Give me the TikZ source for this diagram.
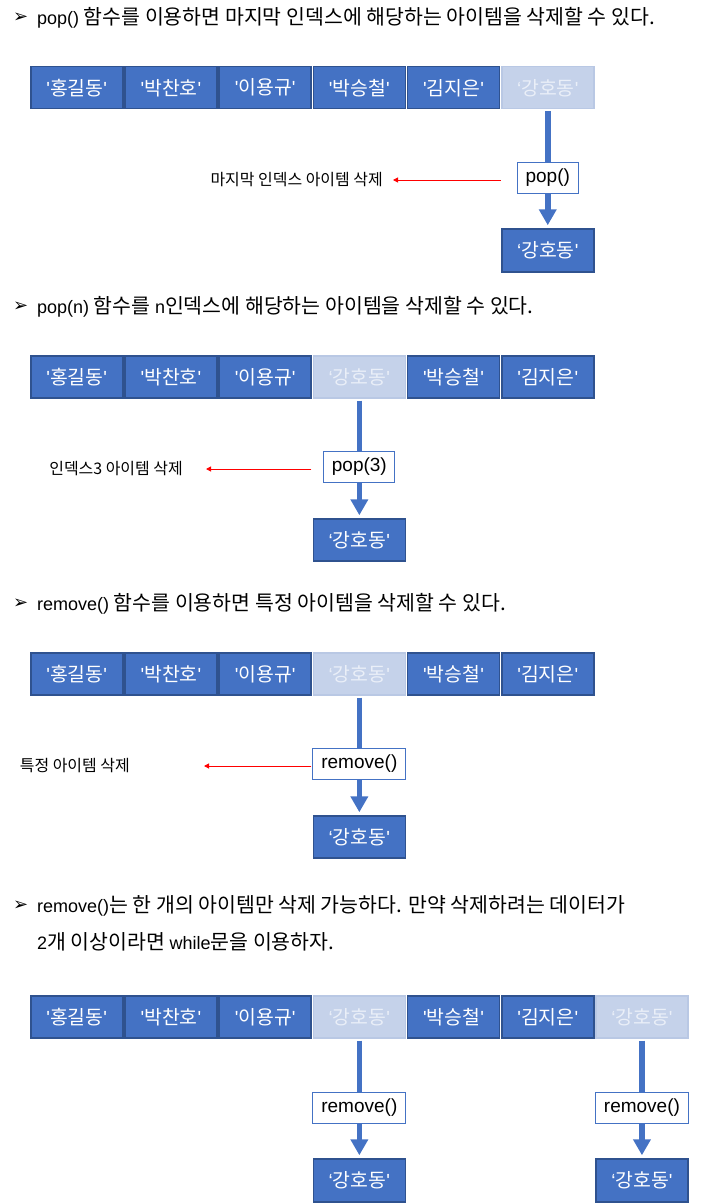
\documentclass[tikz,border=0pt]{standalone}
\usepackage{fontspec}
\setmainfont[Scale=1.14]{Noto Sans CJK KR}
\newfontfamily\la{Liberation Sans}
\newfontfamily\symf{DejaVu Sans}
\usetikzlibrary{arrows.meta,backgrounds}
\definecolor{cellfill}{HTML}{4472C4}
\definecolor{cellborder}{HTML}{2F528F}
\definecolor{ghostfill}{HTML}{C5D2EA}
\definecolor{ghostborder}{HTML}{B9C8E4}
\definecolor{ghosttext}{HTML}{EAEFF8}
\definecolor{arrowblue}{HTML}{4472C4}
\newcommand\cellq[1]{{\la\fontsize{19}{20}\selectfont '}#1{\la\fontsize{19}{20}\selectfont '}}
\newcommand\cellqq[1]{{\la\fontsize{19}{20}\selectfont ‘}#1{\la\fontsize{19}{20}\selectfont '}}
\begin{document}
\begin{tikzpicture}[x=1pt,y=-1pt,
  cell/.style={rectangle, draw=cellborder, line width=1.5pt, fill=cellfill, text=white,
    minimum width=92pt, minimum height=42pt, inner sep=0pt, font=\fontsize{17}{20}\selectfont},
  ghost/.style={cell, draw=ghostborder, fill=ghostfill, text=ghosttext},
  fn/.style={rectangle, draw=arrowblue, line width=1pt, fill=white, text=black,
    minimum height=31pt, inner sep=0pt, font=\la\fontsize{19}{21}\selectfont},
  flow/.style={draw=arrowblue, line width=5.5pt, -{Triangle[length=16pt,width=17pt]},
    shorten <=2pt, shorten >=3pt},
  redline/.style={draw=red, line width=1pt, -{Triangle[length=5pt,width=5pt]}},
  note/.style={inner sep=0pt, anchor=east, font=\fontsize{14}{16}\selectfont},
  head/.style={inner sep=0pt, anchor=west, font=\fontsize{18}{22}\selectfont},
  bul/.style={inner sep=0pt, anchor=west, font=\symf\bfseries\fontsize{18}{20}\selectfont}
]
\useasboundingbox (0,0) rectangle (711,1204);

% ---------- section 1 ----------
\node[bul] (b1) at (13,18) {➢};
\node[head] (h1) at (37,18) {{\la pop()} 함수를 이용하면 마지막 인덱스에 해당하는 아이템을 삭제할 수 있다.};
\foreach \t/\s [count=\i from 0] in {\cellq{홍길동}/cell,\cellq{박찬호}/cell,\cellq{이용규}/cell,\cellq{박승철}/cell,\cellq{김지은}/cell,\cellqq{강호동}/ghost}
  \node[\s, anchor=north west] (ra\i) at ({30+94.2*\i},66) {\t};
\node[fn, minimum width=61pt] (fa) at (ra5 |- 0,177.5) {pop()};
\node[cell, minimum height=43pt] (oa) at (ra5 |- 0,250.5) {\cellqq{강호동}};
\node[note] (la) at (383,180) {마지막 인덱스 아이템 삭제};

% ---------- section 2 ----------
\node[bul] (b2) at (13,307) {➢};
\node[head] (h2) at (37,307) {{\la pop(n)} 함수를 {\la n}인덱스에 해당하는 아이템을 삭제할 수 있다.};
\foreach \t/\s [count=\i from 0] in {\cellq{홍길동}/cell,\cellq{박찬호}/cell,\cellq{이용규}/cell,\cellqq{강호동}/ghost,\cellq{박승철}/cell,\cellq{김지은}/cell}
  \node[\s, anchor=north west] (rb\i) at ({30+94.2*\i},355) {\t};
\node[fn, minimum width=71pt] (fb) at (rb3 |- 0,467) {pop(3)};
\node[cell, minimum height=42pt] (ob) at (rb3 |- 0,540) {\cellqq{강호동}};
\node[note] (lb) at (183,469) {인덱스3 아이템 삭제};

% ---------- section 3 ----------
\node[bul] (b3) at (13,604) {➢};
\node[head] (h3) at (37,604) {{\la remove()} 함수를 이용하면 특정 아이템을 삭제할 수 있다.};
\foreach \t/\s [count=\i from 0] in {\cellq{홍길동}/cell,\cellq{박찬호}/cell,\cellq{이용규}/cell,\cellqq{강호동}/ghost,\cellq{박승철}/cell,\cellq{김지은}/cell}
  \node[\s, anchor=north west] (rc\i) at ({30+94.2*\i},652) {\t};
\node[fn, minimum width=93pt] (fc) at (rc3 |- 0,763.5) {remove()};
\node[cell, minimum height=42pt] (oc) at (rc3 |- 0,837) {\cellqq{강호동}};
\node[note] (lc) at (130,766) {특정 아이템 삭제};

% ---------- section 4 ----------
\node[bul] (b4) at (13,906) {➢};
\node[head] (h4) at (37,906) {{\la remove()}는 한 개의 아이템만 삭제 가능하다. 만약 삭제하려는 데이터가};
\node[head] (h5) at (37,942) {{\la 2}개 이상이라면 {\la while}문을 이용하자.};
\foreach \t/\s [count=\i from 0] in {\cellq{홍길동}/cell,\cellq{박찬호}/cell,\cellq{이용규}/cell,\cellqq{강호동}/ghost,\cellq{박승철}/cell,\cellq{김지은}/cell,\cellqq{강호동}/ghost}
  \node[\s, anchor=north west] (rd\i) at ({30+94.2*\i},995) {\t};
\node[fn, minimum width=93pt] (fd) at (rd3 |- 0,1107.5) {remove()};
\node[fn, minimum width=93pt] (fe) at (rd6 |- 0,1107.5) {remove()};
\node[cell, minimum height=43pt] (od) at (rd3 |- 0,1180.5) {\cellqq{강호동}};
\node[cell, minimum height=43pt] (oe) at (rd6 |- 0,1180.5) {\cellqq{강호동}};

% ---------- connectors ----------
\begin{scope}[on background layer]
  \draw[flow] (ra5.south) -- (oa.north);
  \draw[flow] (rb3.south) -- (ob.north);
  \draw[flow] (rc3.south) -- (oc.north);
  \draw[flow] (rd3.south) -- (od.north);
  \draw[flow] (rd6.south) -- (oe.north);
\end{scope}
\draw[redline, shorten <=16pt, shorten >=10pt] (fa.west |- la.east) -- (la.east);
\draw[redline, shorten <=12pt, shorten >=23pt] (fb.west |- lb.east) -- (lb.east);
\draw[redline, shorten <=1pt, shorten >=74pt] (fc.west |- lc.east) -- (lc.east);
\end{tikzpicture}
\end{document}
